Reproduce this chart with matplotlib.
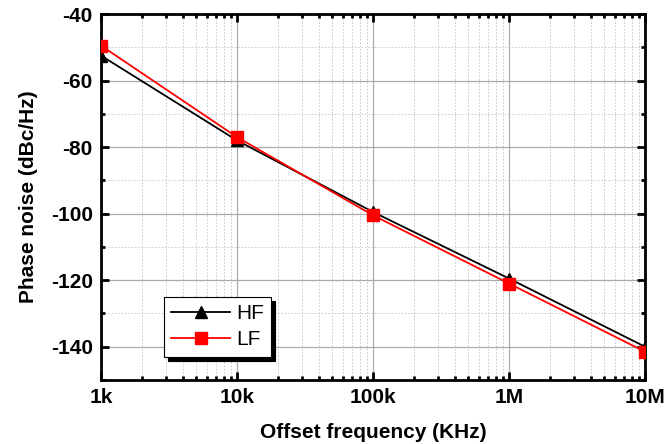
import numpy as np
import matplotlib
matplotlib.use("Agg")
import matplotlib.pyplot as plt
from matplotlib.ticker import FixedLocator, LogLocator, NullFormatter, MultipleLocator

plt.rcParams['font.family'] = ['Liberation Sans', 'DejaVu Sans']
plt.rcParams['axes.unicode_minus'] = False

freq = [1e3, 1e4, 1e5, 1e6, 1e7]
hf = [-52.5, -78.0, -99.5, -119.5, -140.0]
lf = [-49.5, -77.0, -100.5, -121.0, -141.5]
xticklabels = ["1k", "10k", "100k", "1M", "10M"]

fig = plt.figure(figsize=(6.68, 4.44), dpi=100)
ax = fig.add_axes([101 / 668, 1 - 380 / 444, 544 / 668, 366 / 444])

ax.plot(freq, hf, color="black", marker="^", markersize=8, lw=1.3, label="HF", zorder=3)
ax.plot(freq, lf, color="red", marker="s", markersize=8, lw=1.3, label="LF", zorder=4)

ax.set_xscale("log")
ax.set_xlim(1e3, 1e7)
ax.set_ylim(-150, -40)
ax.xaxis.set_major_locator(FixedLocator(freq))
ax.set_xticklabels(xticklabels)
ax.xaxis.set_minor_locator(LogLocator(base=10, subs=np.arange(2, 10)))
ax.xaxis.set_minor_formatter(NullFormatter())
ax.yaxis.set_major_locator(MultipleLocator(20))
ax.yaxis.set_minor_locator(MultipleLocator(10))

ax.grid(True, which="major", color="#aaaaaa", lw=0.9, ls="-")
ax.grid(True, which="minor", color="#c4c4c4", lw=0.6, ls=(0, (2, 2)))

ax.tick_params(which="both", direction="in", top=True, right=True, width=2)
ax.tick_params(which="major", length=6, labelsize=15, pad=6)
ax.tick_params(which="minor", length=3)
for lbl in ax.get_xticklabels() + ax.get_yticklabels():
    lbl.set_fontweight("bold")
for s in ax.spines.values():
    s.set_linewidth(2)

ax.set_xlabel("Offset frequency (KHz)", fontsize=15, fontweight="bold", labelpad=11)
ax.set_ylabel("Phase noise (dBc/Hz)", fontsize=15, fontweight="bold", labelpad=9)

leg = ax.legend(loc="lower left", bbox_to_anchor=(0.097, 0.035), fontsize=15,
                shadow={"color": "black", "alpha": 1, "ox": 3, "oy": -3}, fancybox=False,
                edgecolor="black", framealpha=1, handlelength=2.8,
                borderpad=0.35, labelspacing=0.35, handletextpad=0.3)
leg.get_frame().set_linewidth(0.8)

fig.savefig("out.png", dpi=100)
